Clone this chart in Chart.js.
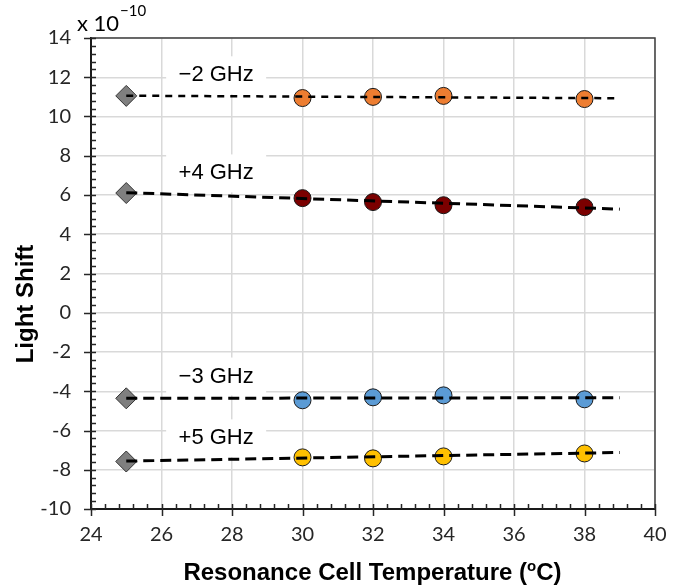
<!DOCTYPE html>
<html>
<head>
<meta charset="utf-8">
<script src="https://cdn.jsdelivr.net/npm/chart.js@4"></script>
<style>
  html, body { margin: 0; padding: 0; background: #fff; }
  canvas { display: block; }
</style>
</head>
<body>
<canvas id="shift-chart" width="688" height="586"></canvas>
<script>
// measured temperatures (oC)
const temps = [30, 32, 34, 38];
const refTemp = 25;
const fitTemps = [25, 39];

const seriesNames = ['\u22122 GHz', '+4 GHz', '\u22123 GHz', '+5 GHz'];

// light shift, x 10^-10
const shiftM2 = [10.94, 11.0, 11.05, 10.89];
const shiftP4 = [5.84, 5.64, 5.48, 5.38];
const shiftM3 = [-4.46, -4.31, -4.21, -4.41];
const shiftP5 = [-7.37, -7.42, -7.32, -7.17];
const refShift = [11.05, 6.1, -4.36, -7.58];

// linear fit end points at 25 and 39 oC
const fitStart = [11.06, 6.12, -4.36, -7.56];
const fitEnd = [10.93, 5.28, -4.33, -7.12];

const xTicks = [24, 40, 2];
const yTicks = [-10, 14, 2];

const colors = ['#ED7D31', '#7B0000', '#5B9BD5', '#FFC000'];
const measured = [shiftM2, shiftP4, shiftM3, shiftP5];

// where the series names sit (data coords)
const nameX = 27.55;
const nameY = [12.1, 7.1, -3.25, -6.4];

const datasets = [];
measured.forEach((vals, i) => {
	datasets.push({
		type: 'line',
		label: seriesNames[i] + ' fit',
		data: fitTemps.map((t, k) => ({ x: t, y: k === 0 ? fitStart[i] : fitEnd[i] })),
		borderColor: '#000',
		borderWidth: i === 0 ? 2.5 : 3,
		borderDash: i === 0 ? [7, 6] : [11, 6],
		pointRadius: 0,
		fill: false,
		order: 0,
	});
});
measured.forEach((vals, i) => {
	datasets.push({
		type: 'scatter',
		label: seriesNames[i],
		data: temps.map((t, k) => ({ x: t, y: vals[k] })),
		backgroundColor: colors[i],
		borderColor: '#1a1a1a',
		borderWidth: 1,
		pointRadius: 8.5,
		pointStyle: 'circle',
		order: 1,
	});
});
datasets.push({
	type: 'scatter',
	label: 'reference',
	data: refShift.map((v) => ({ x: refTemp, y: v })),
	backgroundColor: '#7F7F7F',
	borderColor: '#333',
	borderWidth: 1,
	pointRadius: 10.5,
	pointStyle: 'rectRot',
	order: 1,
});

const decor = {
	id: 'decor',
	beforeDatasetsDraw(chart) {
		const { ctx, scales: { x, y } } = chart;
		ctx.save();
		ctx.font = '22px "Liberation Sans", Arial, sans-serif';
		ctx.textAlign = 'center';
		ctx.textBaseline = 'middle';
		seriesNames.forEach((name, i) => {
			const cx = x.getPixelForValue(nameX);
			const cy = y.getPixelForValue(nameY[i]);
			ctx.fillStyle = '#fff';
			ctx.fillRect(cx - 50, cy - 19, 100, 38);
			ctx.fillStyle = '#000';
			ctx.fillText(name, cx, cy);
		});
		ctx.restore();
	},
	afterDraw(chart) {
		const { ctx, chartArea: a } = chart;
		const { x, y } = chart.scales;
		ctx.save();
		// frame top/right
		ctx.strokeStyle = '#404040';
		ctx.lineWidth = 1.5;
		ctx.beginPath();
		ctx.moveTo(a.left, a.top);
		ctx.lineTo(a.right, a.top);
		ctx.lineTo(a.right, a.bottom);
		ctx.stroke();

		// tick marks
		ctx.strokeStyle = '#262626';
		ctx.lineWidth = 1.5;
		ctx.beginPath();
		for (let k = 0; k <= 60; k++) {
			const py = Math.round(y.getPixelForValue(-10 + k * 0.4)) + 0.5;
			if (k % 5 === 0) {
				ctx.moveTo(a.left - 7, py);
				ctx.lineTo(a.left + 5, py);
			} else {
				ctx.moveTo(a.left, py);
				ctx.lineTo(a.left + 5, py);
			}
		}
		for (let k = 0; k <= 40; k++) {
			const px = Math.round(x.getPixelForValue(24 + k * 0.4)) + 0.5;
			if (k % 5 === 0) {
				ctx.moveTo(px, a.bottom - 5);
				ctx.lineTo(px, a.bottom + 7);
			} else {
				ctx.moveTo(px, a.bottom - 5);
				ctx.lineTo(px, a.bottom);
			}
		}
		ctx.stroke();

		// axis titles
		ctx.fillStyle = '#000';
		ctx.font = 'bold 24px "Liberation Sans", Arial, sans-serif';
		ctx.textBaseline = 'middle';
		ctx.textAlign = 'center';
		ctx.save();
		ctx.translate(26, 304);
		ctx.rotate(-Math.PI / 2);
		ctx.fillText('Light Shift', 0, 0);
		ctx.restore();

		const p1 = 'Resonance Cell Temperature (';
		const sup = 'o';
		const p2 = 'C)';
		ctx.textBaseline = 'alphabetic';
		ctx.textAlign = 'left';
		const w1 = ctx.measureText(p1).width;
		const w3 = ctx.measureText(p2).width;
		ctx.font = 'bold 15px "Liberation Sans", Arial, sans-serif';
		const w2 = ctx.measureText(sup).width;
		let tx = 372.5 - (w1 + w2 + w3) / 2;
		ctx.font = 'bold 24px "Liberation Sans", Arial, sans-serif';
		ctx.fillText(p1, tx, 580);
		tx += w1;
		ctx.font = 'bold 15px "Liberation Sans", Arial, sans-serif';
		ctx.fillText(sup, tx, 571);
		tx += w2;
		ctx.font = 'bold 24px "Liberation Sans", Arial, sans-serif';
		ctx.fillText(p2, tx, 580);

		// exponent
		ctx.font = '22px Lato, sans-serif';
		ctx.fillText('x 10', 77, 31);
		const wx = ctx.measureText('x 10').width;
		ctx.font = '15px Lato, sans-serif';
		ctx.fillText('\u221210', 77 + wx + 1, 16);
		ctx.restore();
	},
};

const ctx = document.getElementById('shift-chart').getContext('2d');
new Chart(ctx, {
	data: { datasets },
	plugins: [decor],
	options: {
		responsive: false,
		animation: false,
		layout: { padding: { left: 0, top: 38, right: 33, bottom: 0 } },
		plugins: {
			legend: { display: false },
			tooltip: { enabled: false },
		},
		scales: {
			x: {
				type: 'linear',
				min: xTicks[0],
				max: xTicks[1],
				ticks: {
					stepSize: xTicks[2],
					padding: 14,
					color: '#262626',
					font: { family: 'Lato', size: 20 },
				},
				grid: { color: '#d9d9d9', lineWidth: 1.5, drawTicks: false },
				border: { color: '#1a1a1a', width: 2 },
				afterFit: (s) => { s.height = 77; },
			},
			y: {
				type: 'linear',
				min: yTicks[0],
				max: yTicks[1],
				ticks: {
					stepSize: yTicks[2],
					padding: 20,
					color: '#262626',
					font: { family: 'Lato', size: 20 },
				},
				grid: { color: '#d9d9d9', lineWidth: 1.5, drawTicks: false },
				border: { color: '#1a1a1a', width: 2 },
				afterFit: (s) => { s.width = 91; },
			},
		},
	},
});
</script>
</body>
</html>
